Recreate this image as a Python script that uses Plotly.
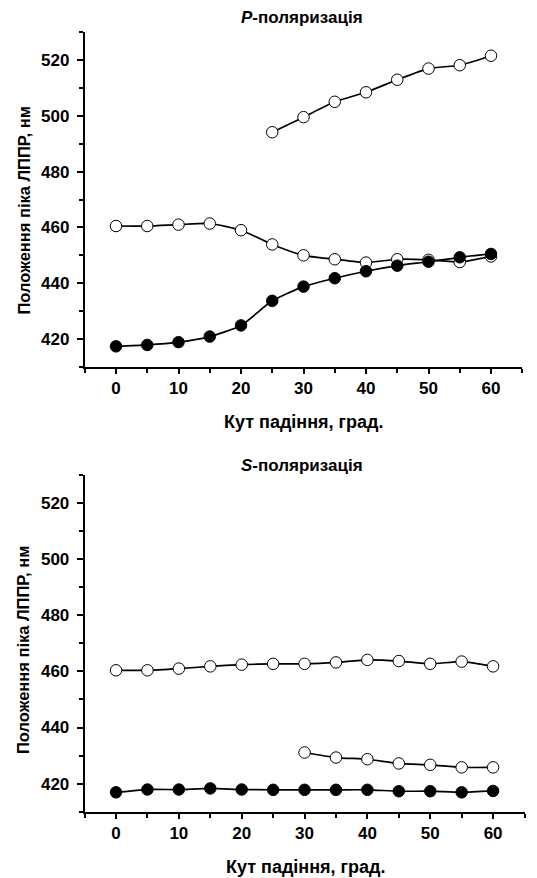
import plotly.graph_objects as go

angles = [0, 5, 10, 15, 20, 25, 30, 35, 40, 45, 50, 55, 60]

# P-polarization
p_filled = [417.4, 417.9, 418.9, 420.9, 424.9, 433.7, 438.8, 441.8, 444.3, 446.3, 447.7, 449.3, 450.5]
p_open_low = [460.5, 460.5, 461.0, 461.4, 459.0, 453.9, 450.0, 448.6, 447.4, 448.6, 448.4, 447.6, 449.6]
p_open_high_x = [25, 30, 35, 40, 45, 50, 55, 60]
p_open_high = [494.1, 499.5, 505.0, 508.4, 512.9, 516.9, 518.1, 521.5]

# S-polarization
s_filled = [416.9, 417.9, 417.9, 418.3, 417.9, 417.8, 417.8, 417.8, 417.8, 417.3, 417.3, 416.9, 417.4]
s_open_high = [460.4, 460.4, 461.0, 461.8, 462.4, 462.7, 462.7, 463.2, 464.1, 463.7, 462.7, 463.5, 461.8]
s_open_low_x = [30, 35, 40, 45, 50, 55, 60]
s_open_low = [431.1, 429.3, 428.7, 427.2, 426.7, 425.8, 425.8]

y_ticks = [420, 440, 460, 480, 500, 520]
x_ticks = [0, 10, 20, 30, 40, 50, 60]

FONT = "Liberation Sans"
W, H = 537, 878

fig = go.Figure()

def add(x, y, filled, xa, ya):
    fig.add_trace(go.Scatter(
        x=x, y=y, mode="lines+markers", xaxis=xa, yaxis=ya,
        line=dict(color="black", width=1.7, shape="spline", smoothing=0.6),
        marker=dict(size=11.5, color="black" if filled else "white",
                    line=dict(color="black", width=1)),
        showlegend=False, cliponaxis=False))

add(angles, p_open_low, False, "x", "y")
add(p_open_high_x, p_open_high, False, "x", "y")
add(angles, p_filled, True, "x", "y")
add(angles, s_open_high, False, "x2", "y2")
add(s_open_low_x, s_open_low, False, "x2", "y2")
add(angles, s_filled, True, "x2", "y2")

tickfont = dict(family=FONT, size=17, color="black", weight="bold")

def xax(domain, anchor):
    return dict(domain=domain, anchor=anchor, range=[-5, 65], tickvals=x_ticks,
                showgrid=False, zeroline=False, showline=True, linecolor="black", linewidth=1.8,
                ticks="outside", ticklen=5, tickwidth=1.5, tickcolor="black",
                minor=dict(tickvals=[-5, 5, 15, 25, 35, 45, 55, 65], ticks="outside", ticklen=4,
                           tickwidth=1.5, tickcolor="black"),
                tickfont=tickfont, fixedrange=True)

def yax(domain, anchor):
    return dict(domain=domain, anchor=anchor, range=[410, 530], tickvals=y_ticks,
                showgrid=False, zeroline=False, showline=True, linecolor="black", linewidth=1.8,
                ticks="outside", ticklen=6, tickwidth=1.5, tickcolor="black",
                minor=dict(tickvals=[410, 430, 450, 470, 490, 510, 530], ticks="outside", ticklen=4,
                           tickwidth=1.5, tickcolor="black"),
                tickfont=tickfont, ticklabelstandoff=4, fixedrange=True)

top_y = [1 - 367 / H, 1 - 32 / H]
bot_y = [1 - 811.7 / H, 1 - 475 / H]

fig.update_layout(
    width=W, height=H, margin=dict(l=0, r=0, t=0, b=0),
    paper_bgcolor="white", plot_bgcolor="white",
    xaxis=xax([84.75 / W, 522.25 / W], "y"),
    yaxis=yax(top_y, "x"),
    xaxis2=xax([84.6 / W, 524.5 / W], "y2"),
    yaxis2=yax(bot_y, "x2"),
)

lab = dict(family=FONT, size=17, color="black", weight="bold")
xlab = dict(family=FONT, size=18, color="black", weight="bold")
ylab = dict(family=FONT, size=16.5, color="black", weight="bold")
ann = []
ann.append(dict(text="<i>P</i>-поляризація", x=302 / W, y=1 - 17 / H, xref="paper", yref="paper",
                showarrow=False, font=lab, xanchor="center", yanchor="middle"))
ann.append(dict(text="<i>S</i>-поляризація", x=302 / W, y=1 - 465 / H, xref="paper", yref="paper",
                showarrow=False, font=lab, xanchor="center", yanchor="middle"))
ann.append(dict(text="Кут падіння, град.", x=304 / W, y=1 - 422 / H, xref="paper", yref="paper",
                showarrow=False, font=xlab, xanchor="center", yanchor="middle"))
ann.append(dict(text="Кут падіння, град.", x=306 / W, y=1 - 867 / H, xref="paper", yref="paper",
                showarrow=False, font=xlab, xanchor="center", yanchor="middle"))
ann.append(dict(text="Положення піка ЛППР, нм", x=23 / W, y=1 - 210.5 / H, xref="paper", yref="paper",
                showarrow=False, font=ylab, textangle=-90, xanchor="center", yanchor="middle"))
ann.append(dict(text="Положення піка ЛППР, нм", x=23 / W, y=1 - 650 / H, xref="paper", yref="paper",
                showarrow=False, font=ylab, textangle=-90, xanchor="center", yanchor="middle"))
fig.update_layout(annotations=ann)

fig.write_html("out.html")
